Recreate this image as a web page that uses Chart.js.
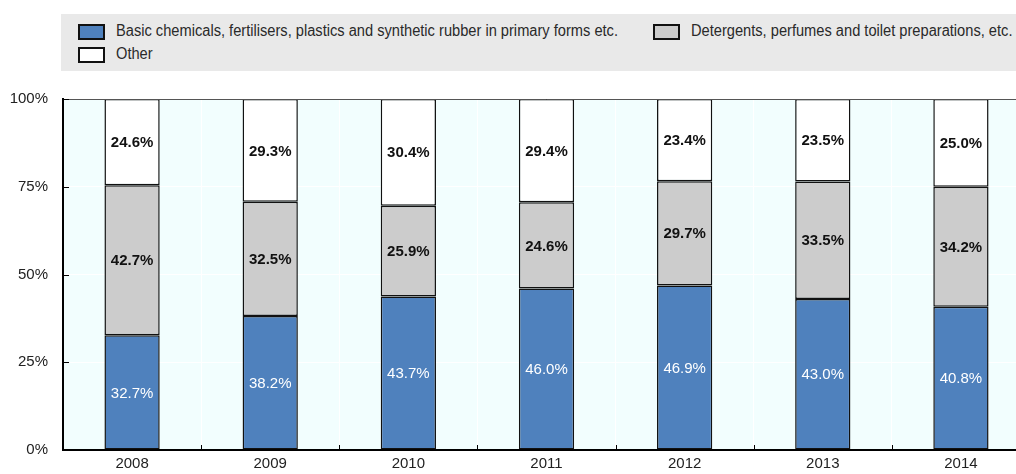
<!DOCTYPE html>
<html>
<head>
<meta charset="utf-8">
<script src="https://cdn.jsdelivr.net/npm/chart.js@4"></script>
<style>
  html, body { margin: 0; padding: 0; background: #fff; overflow: hidden; width: 1016px; height: 474px; }
  #wrap { position: relative; width: 1016px; height: 474px; }
  #chart { position: absolute; left: 0; top: 0; }
  .legend { position: absolute; left: 61px; top: 14px; width: 955px; height: 57px; background: #e9e9e9;
            font-family: "Liberation Sans", Arial, sans-serif; font-size: 16px; color: #2a2a2a; }
  .item { position: absolute; height: 16px; line-height: 16px; white-space: nowrap; }
  .sw { position: absolute; left: 0; top: 0; width: 23px; height: 12px; border: 2px solid #111; }
  .lbl { position: absolute; left: 38px; top: -1px; transform: scaleX(0.915); transform-origin: left center; }
</style>
</head>
<body>
<div id="wrap">
  <canvas id="chart" width="1040" height="474"></canvas>
  <div class="legend" id="legend"></div>
</div>
<script>
// Категории и значения
const years = ['2008', '2009', '2010', '2011', '2012', '2013', '2014'];
const basicChem = [32.7, 38.2, 43.7, 46.0, 46.9, 43.0, 40.8];
const detergents = [42.7, 32.5, 25.9, 24.6, 29.7, 33.5, 34.2];
const other = [24.6, 29.3, 30.4, 29.4, 23.4, 23.5, 25.0];
const seriesNames = [
    'Basic chemicals, fertilisers, plastics and synthetic rubber in primary forms etc.',
    'Detergents, perfumes and toilet preparations, etc.',
    'Other'
];
const yTicks = [0, 25, 50, 75, 100];

const colors = ['#4f81bd', '#cccccc', '#ffffff'];
const labelColors = ['#ffffff', '#111111', '#111111'];
const font = '"Liberation Sans", Arial, sans-serif';

// Легенда (HTML)
const legendPos = [[17, 10], [592, 10], [17, 33]];
const legendEl = document.getElementById('legend');
seriesNames.forEach((name, i) => {
    const it = document.createElement('div');
    it.className = 'item';
    it.style.left = legendPos[i][0] + 'px';
    it.style.top = legendPos[i][1] + 'px';
    it.innerHTML = '<span class="sw" style="background:' + colors[i] + '"></span><span class="lbl"></span>';
    it.querySelector('.lbl').textContent = name;
    legendEl.appendChild(it);
});

const plotDecor = {
    id: 'plotDecor',
    beforeDraw(chart) {
        const { ctx, chartArea: a } = chart;
        ctx.save();
        ctx.fillStyle = '#f2fefe';
        ctx.fillRect(a.left, a.top, a.right - a.left, a.bottom - a.top);
        ctx.restore();
    },
    afterDraw(chart) {
        const { ctx, chartArea: a, scales } = chart;
        ctx.save();
        // верхняя рамка
        ctx.strokeStyle = '#555';
        ctx.lineWidth = 1;
        ctx.beginPath();
        ctx.moveTo(a.left, a.top + 0.5);
        ctx.lineTo(a.right, a.top + 0.5);
        ctx.stroke();
        // внутренние засечки
        ctx.strokeStyle = '#000';
        ctx.lineWidth = 1;
        yTicks.forEach(v => {
            const y = Math.round(scales.y.getPixelForValue(v)) + 0.5;
            ctx.beginPath();
            ctx.moveTo(a.left, y);
            ctx.lineTo(a.left + 6, y);
            ctx.stroke();
        });
        const step = scales.x.getPixelForValue(1) - scales.x.getPixelForValue(0);
        for (let i = 0; i < years.length; i++) {
            const x = Math.round(scales.x.getPixelForValue(i) + step / 2) + 0.5;
            ctx.beginPath();
            ctx.moveTo(x, a.bottom);
            ctx.lineTo(x, a.bottom - 5);
            ctx.stroke();
        }
        // подписи значений
        ctx.textAlign = 'center';
        ctx.textBaseline = 'middle';
        chart.data.datasets.forEach((ds, di) => {
            const meta = chart.getDatasetMeta(di);
            ctx.fillStyle = labelColors[di];
            ctx.font = (di === 0 ? '' : 'bold ') + '15px ' + font;
            meta.data.forEach((bar, i) => {
                const p = bar.getProps(['x', 'y', 'base'], true);
                ctx.fillText(ds.data[i].toFixed(1) + '%', p.x, (p.y + p.base) / 2 + 1);
            });
        });
        ctx.restore();
    }
};

const mk = (i, data) => ({
    label: seriesNames[i],
    data: data,
    backgroundColor: colors[i],
    borderColor: '#111',
    borderWidth: 1.5,
    borderSkipped: false,
    categoryPercentage: 1,
    barPercentage: 0.4
});

new Chart(document.getElementById('chart').getContext('2d'), {
    type: 'bar',
    data: {
        labels: years,
        datasets: [mk(0, basicChem), mk(1, detergents), mk(2, other)]
    },
    options: {
        responsive: false,
        animation: false,
        layout: { padding: { top: 99, right: 10, left: 0, bottom: 0 } },
        plugins: { legend: { display: false }, tooltip: { enabled: false } },
        scales: {
            x: {
                stacked: true,
                grid: { color: '#ffffff', lineWidth: 1, drawTicks: false, offset: true },
                border: { color: '#000', width: 2 },
                ticks: { color: '#222', font: { family: font, size: 15 }, padding: 5 },
                afterFit(s) { s.height = 21; }
            },
            y: {
                stacked: true,
                min: 0,
                max: 100,
                grid: { color: '#ffffff', lineWidth: 1, drawTicks: false },
                border: { color: '#000', width: 2 },
                ticks: {
                    stepSize: 25,
                    color: '#222',
                    padding: 15,
                    font: { family: font, size: 15 },
                    callback: v => v + '%'
                },
                afterFit(s) { s.width = 63; }
            }
        }
    },
    plugins: [plotDecor]
});
</script>
</body>
</html>
